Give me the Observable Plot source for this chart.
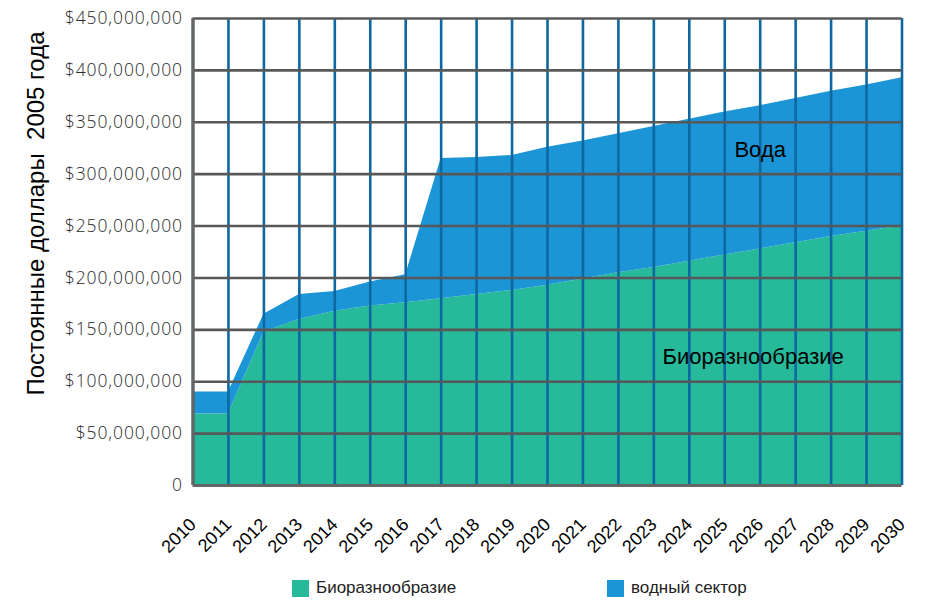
<!DOCTYPE html>
<html><head><meta charset="utf-8">
<script src="https://cdn.jsdelivr.net/npm/d3@7"></script>
<script src="https://cdn.jsdelivr.net/npm/@observablehq/plot@0.6"></script>
<style>
body{margin:0;background:#fff;}
#chart{position:relative;width:938px;height:602px;overflow:hidden;}
.legend{position:absolute;top:578px;left:0;width:938px;height:20px;font-family:"Liberation Sans",Arial,sans-serif;font-size:17px;color:#222;}
.item{position:absolute;top:0;display:flex;align-items:center;white-space:nowrap;}
.sw{width:17px;height:17px;margin-right:7px;flex:none;}
</style></head><body><div id="chart"></div>
<script>
// Years (x categories / tick labels)
const years = [2010, 2011, 2012, 2013, 2014, 2015, 2016, 2017, 2018, 2019, 2020,
               2021, 2022, 2023, 2024, 2025, 2026, 2027, 2028, 2029, 2030];
// Biodiversity, millions of 2005 dollars
const biodiversity = [69, 69, 148, 160, 168, 173, 176, 180, 184, 188, 193,
                      199, 205, 210, 216, 222, 228, 234, 240, 245, 250];
// Water sector, millions of 2005 dollars (stacked on top)
const water = [21, 21, 17, 24, 19, 23, 27, 135, 132, 130, 133,
               133, 134, 136, 137, 138, 138, 139, 140, 141, 143];
const seriesNames = ["Биоразнообразие", "водный сектор"];
const seriesColors = ["#26b99a", "#1b95d5"];
const yTicks = [0, 50e6, 100e6, 150e6, 200e6, 250e6, 300e6, 350e6, 400e6, 450e6];
const yLabel = "Постоянные доллары  2005 года";
const areaLabels = [
  {year: 2026, value: 323e6, text: "Вода"},
  {year: 2025.8, value: 124e6, text: "Биоразнообразие"}
];

const data = [];
years.forEach((yr, i) => {
  data.push({year: yr, series: seriesNames[0], value: biodiversity[i] * 1e6});
  data.push({year: yr, series: seriesNames[1], value: water[i] * 1e6});
});
const fmtY = d => d === 0 ? "0" : d3.format("$,")(d);

const chart = Plot.plot({
  width: 938, height: 570,
  marginLeft: 192.5, marginRight: 36.5, marginTop: 18, marginBottom: 85,
  style: {fontFamily: "'Liberation Sans', Arial, sans-serif", background: "#fff"},
  x: {domain: [2010, 2030]},
  y: {domain: [0, 450e6]},
  color: {domain: seriesNames, range: seriesColors},
  marks: [
    Plot.areaY(data, {x: "year", y: "value", fill: "series", order: seriesNames}),
    Plot.ruleX(years, {stroke: "#0d68a1", strokeWidth: 2.6}),
    Plot.ruleY(yTicks.filter(d => d > 0), {stroke: "#585858", strokeWidth: 2.6}),
    Plot.ruleX([years[0]], {stroke: "#666", strokeWidth: 3.2}),
    Plot.ruleY([0], {stroke: "#666", strokeWidth: 3.2}),
    Plot.text(areaLabels, {x: "year", y: "value", text: "text", fontSize: 22, fill: "#000"}),
    Plot.axisY(yTicks, {tickSize: 0, tickPadding: 10, tickFormat: fmtY, label: null,
      fontSize: 17.5, fill: "#2a2a2a", fontFamily: "'Open Sans', sans-serif", fontWeight: 300}),
    Plot.axisX(years, {tickSize: 0, tickPadding: 22, dy: 14, tickRotate: -45, tickFormat: d => String(d),
      label: null, fontSize: 18, fill: "#000"}),
    Plot.text([yLabel], {frameAnchor: "left", textAnchor: "middle", rotate: -90, dx: -149, dy: -38.5,
      lineAnchor: "bottom", fontSize: 24, fill: "#000"})
  ]
});
const root = document.getElementById("chart");
root.appendChild(chart);
d3.select(chart).selectAll("[aria-label='y-axis tick label'] text").style("letter-spacing", "0.9px");
d3.select(chart).selectAll("[aria-label='text'] text").style("white-space", "pre");

const legend = document.createElement("div");
legend.className = "legend";
const legendX = [292, 607];
seriesNames.forEach((name, i) => {
  const it = document.createElement("div");
  it.className = "item";
  it.style.left = legendX[i] + "px";
  it.innerHTML = `<div class="sw" style="background:${seriesColors[i]}"></div><span>${name}</span>`;
  legend.appendChild(it);
});
root.appendChild(legend);
</script></body></html>
